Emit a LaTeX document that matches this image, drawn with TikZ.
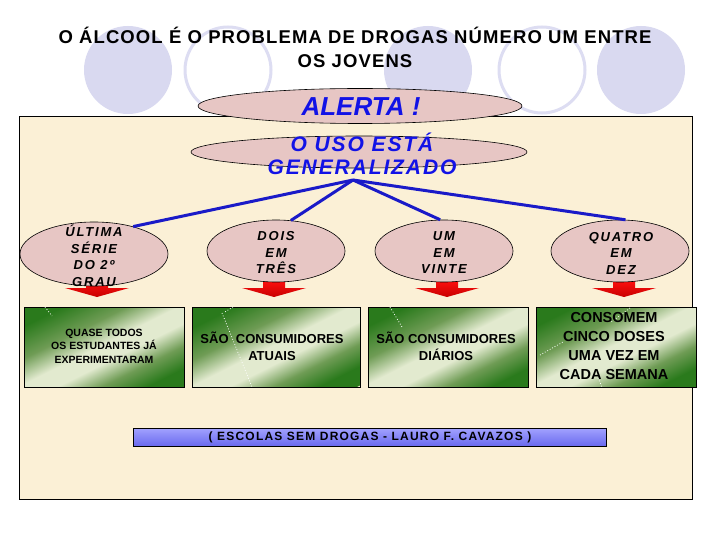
\documentclass[tikz,border=0pt]{standalone}
\usepackage{fontspec}
\setmainfont{Liberation Sans}
\usetikzlibrary{shapes.geometric}
\definecolor{cream}{HTML}{FBF0D6}
\definecolor{pinkfill}{HTML}{E7C6C4}
\definecolor{lav}{HTML}{D9D9F0}
\definecolor{lavline}{HTML}{DDDDF2}
\definecolor{linkblue}{HTML}{1A1AC8}
\definecolor{txtblue}{HTML}{1212E6}
\definecolor{gdark}{HTML}{2A7A1C}
\definecolor{gmid}{HTML}{6F9C55}
\definecolor{glight}{HTML}{E2EACF}
\definecolor{bartop}{HTML}{A2A2FF}
\definecolor{barbot}{HTML}{6A6AEE}
\definecolor{redtop}{HTML}{FF1010}
\definecolor{redbot}{HTML}{C80000}
\pgfdeclarehorizontalshading{greenshade}{100bp}{color(0bp)=(gdark); color(31bp)=(gdark); color(41bp)=(gmid); color(49bp)=(glight); color(55bp)=(glight); color(62bp)=(gmid); color(69bp)=(gdark); color(100bp)=(gdark)}
\newcommand\greenpanel[3]{%
  \begin{scope}
    \clip ({#1-#3},{#2-40}) rectangle ({#1+#3},{#2+40});
    \shade[shading=greenshade, transform canvas={shift={(#1,#2)}, rotate=-63.4}] (-72,-170) rectangle (72,170);
  \end{scope}}
\tikzset{
  bigell/.style={ellipse, draw=black, line width=0.6pt, fill=pinkfill, inner sep=0pt},
  catell/.style={bigell, minimum width=138pt, minimum height=62pt},
  bluetxt/.style={text=txtblue, align=center, inner sep=0pt},
  cattxt/.style={align=center, inner sep=0pt, font=\bfseries\itshape\fontsize{13}{16.5}\selectfont\addfontfeature{LetterSpace=14}},
  gbox/.style={draw=black, line width=0.8pt, minimum width=160pt, minimum height=80pt, inner sep=0pt},
  boxtxt/.style={align=center, inner sep=0pt},
  link/.style={draw=linkblue, line width=3pt},
  redarrow/.style={top color=redtop, bottom color=redbot, draw=none},
  deco/.style={draw=white, dotted, line width=0.8pt},
}
\begin{document}
\begin{tikzpicture}[x=1pt,y=-1pt]
\useasboundingbox (0,0) rectangle (720,540);
\fill[white] (0,0) rectangle (720,540);
% background circles
\fill[lav] (128,70) circle[radius=44];
\draw[lavline, line width=3pt] (228,70) circle[radius=43];
\fill[lav] (428,70) circle[radius=44];
\draw[lavline, line width=3pt] (542,70) circle[radius=43];
\fill[lav] (641,70) circle[radius=44];
% title
\node[align=center, inner sep=0pt, font=\bfseries\fontsize{18.5}{24}\selectfont\addfontfeature{LetterSpace=6}] (title) at (355,47) {O ÁLCOOL É O PROBLEMA DE DROGAS NÚMERO UM ENTRE\\OS JOVENS};
% main panel
\draw[fill=cream, line width=0.8pt] (19,116) rectangle (692,499);
% top ellipses
\node[bigell, minimum width=324pt, minimum height=35pt] (alerta) at (360,106) {};
\node[bluetxt, font=\bfseries\itshape\fontsize{26}{28}\selectfont] (alertatxt) at (361,107) {ALERTA !};
\node[bigell, minimum width=336pt, minimum height=32pt] (uso) at (359,152) {};
\node[bluetxt, font=\bfseries\itshape\fontsize{21}{22.5}\selectfont\addfontfeature{LetterSpace=9}] (usotxt) at (362,154) {O USO ESTÁ\\GENERALIZADO};
% connectors
\coordinate (apex) at (353,180);
% red arrows
\foreach \c in {97,274,447,624}{
  \path[redarrow] ({\c-11},280) -- ({\c+11},280) -- ({\c+11},288) -- ({\c+32},288) -- (\c,297) -- ({\c-32},288) -- ({\c-11},288) -- cycle;
}
% category ellipses
\node[catell, minimum width=148pt, minimum height=64pt] (ult) at (94,254) {};
\node[catell] (dois) at (276,251) {};
\node[catell] (um) at (444,251) {};
\node[catell] (quatro) at (620,251) {};
\draw[link] (apex) -- (ult.35);
\draw[link] (apex) -- (dois.64);
\draw[link] (apex) -- (um.97);
\draw[link] (apex) -- (quatro.80);
\node[cattxt] (ulttxt) at (94,256) {ÚLTIMA\\SÉRIE\\DO 2º\\GRAU};
\node[cattxt] (doistxt) at (276,253) {DOIS\\EM\\TRÊS};
\node[cattxt] (umtxt) at (444,253) {UM\\EM\\VINTE};
\node[cattxt] (quatrotxt) at (621,253) {QUATRO\\EM\\DEZ};
% green boxes
\greenpanel{104}{347}{80}
\greenpanel{276}{347}{84}
\greenpanel{448}{347}{80}
\greenpanel{616}{347}{80}
\node[gbox] (b1) at (104,347) {};
\node[gbox, minimum width=168pt] (b2) at (276,347) {};
\node[gbox] (b3) at (448,347) {};
\node[gbox] (b4) at (616,347) {};
\draw[deco] (45,307) -- (52,316);
\draw[deco] (233,307) -- (225,312);
\draw[deco] (222,313) -- (252,387);
\draw[deco] (390,307) -- (402,327);
\draw[deco] (630,308) -- (610,323);
\draw[deco] (540,355) -- (563,342);
\draw[deco] (598,378) -- (602,387);
\node[boxtxt, font=\bfseries\fontsize{10.5}{13.5}\selectfont] (b1txt) at (104,346) {QUASE TODOS\\OS ESTUDANTES JÁ\\EXPERIMENTARAM};
\node[boxtxt, font=\bfseries\fontsize{13}{17}\selectfont] (b2txt) at (272,346) {SÃO\ \ CONSUMIDORES\\ATUAIS};
\node[boxtxt, font=\bfseries\fontsize{13}{17}\selectfont] (b3txt) at (446,346) {SÃO CONSUMIDORES\\DIÁRIOS};
\node[boxtxt, font=\bfseries\fontsize{14.5}{19}\selectfont] (b4txt) at (614,346) {CONSOMEM\\CINCO DOSES\\UMA VEZ EM\\CADA SEMANA};
% source bar
\node[draw=black, line width=0.8pt, top color=bartop, bottom color=barbot, minimum width=473pt, minimum height=18pt, inner sep=0pt] (bar) at (369.5,437) {};
\node[boxtxt, font=\bfseries\fontsize{12}{14}\selectfont\addfontfeature{LetterSpace=10}] (bartxt) at (370,437.5) {( ESCOLAS SEM DROGAS - LAURO F. CAVAZOS )};
\end{tikzpicture}
\end{document}
